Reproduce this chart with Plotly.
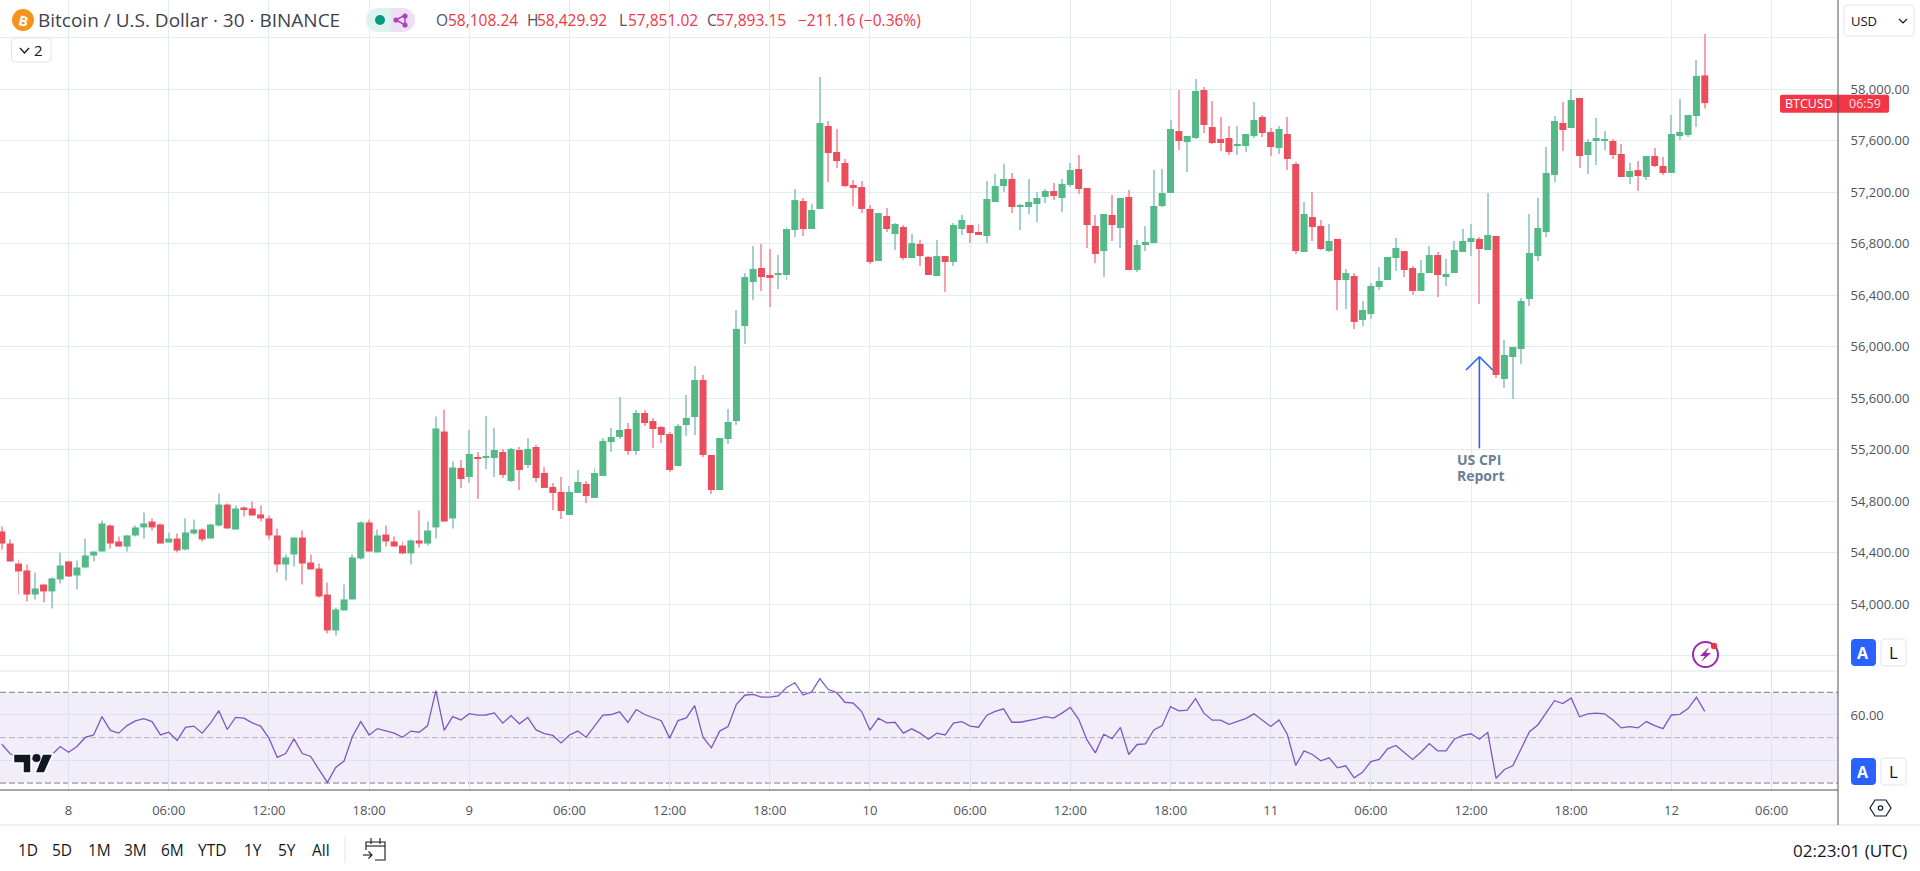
import pandas as pd
import plotly.graph_objects as go
from plotly.subplots import make_subplots

bar_start = "2024-07-07 20:00"
opens = [
54566,54472,54317,54263,54076,54154,54100,54193,54333,54224,
54286,54379,54410,54612,54488,54449,54535,54597,54643,54620,
54480,54511,54426,54550,54581,54511,54612,54775,54581,54752,
54744,54698,54667,54535,54309,54387,54519,54325,54278,54076,
53797,53952,54038,54356,54636,54403,54542,54488,54457,54395,
54496,54472,54597,55342,54667,55059,54989,55144,55144,55137,
55183,54958,55199,55082,55222,55020,54911,54873,54694,54865,
54935,54826,54997,55261,55300,55362,55191,55486,55424,55377,
55323,55074,55393,55455,55742,55160,54888,55284,55424,56162,
56504,56612,56558,56558,56558,56907,57133,56915,57071,57715,
57513,57428,57257,57241,57071,56667,57016,56876,56931,56690,
56799,56698,56550,56705,56659,56915,56946,56892,56861,57125,
57249,57304,57086,57086,57109,57164,57210,57156,57257,57381,
57234,56939,56744,57024,56923,57164,56597,56791,56806,57094,
57195,57676,57591,57622,57995,57707,57614,57622,57560,57560,
57638,57785,57669,57544,57653,57420,56737,57008,56939,56744,
56838,56519,56550,56208,56255,56465,56519,56690,56744,56612,
56434,56573,56713,56542,56573,56737,56814,56838,56752,56861,
55750,55921,55983,56372,56705,56892,57335,57739,57700,57933,
57490,57599,57606,57599,57498,57319,57373,57319,57482,57405,
57350,57638,57645,57793,58108.24]
highs = [
54605,54504,54348,54309,54247,54154,54208,54403,54333,54340,
54511,54410,54651,54620,54527,54535,54612,54713,54667,54628,
54558,54550,54667,54659,54589,54628,54861,54783,54768,54760,
54799,54768,54690,54589,54387,54519,54573,54387,54317,54170,
53975,54154,54387,54643,54659,54581,54612,54527,54488,54504,
54729,54643,55459,55513,55109,55121,55354,55183,55463,55370,
55207,55214,55222,55292,55238,55067,54942,54989,54919,55043,
54958,55059,55292,55370,55610,55408,55509,55509,55447,55385,
55339,55401,55626,55851,55781,55160,55292,55517,56286,56573,
56783,56799,56760,56713,56931,57226,57156,57109,58096,57754,
57692,57459,57296,57288,57102,57039,57078,56962,56946,56876,
56830,56705,56830,56705,56962,57024,56946,56954,57288,57342,
57420,57350,57109,57304,57203,57226,57272,57304,57428,57490,
57234,57024,57032,57179,57156,57218,56830,56939,57373,57381,
57762,57995,57638,58080,58018,57909,57785,57715,57715,57653,
57902,57801,57700,57715,57785,57436,57125,57203,56985,56954,
56838,56605,56573,56356,56496,56620,56698,56845,56744,56628,
56674,56783,56737,56682,56822,56915,56954,56853,57195,56861,
56053,55999,56379,57032,57156,57552,57793,57902,58003,57933,
57614,57777,57676,57614,57575,57428,57443,57482,57544,57474,
57801,57925,57801,58228,58429.92]
lows = [
54426,54333,54076,54022,54038,54014,53968,54162,54216,54115,
54286,54333,54410,54434,54449,54410,54527,54511,54573,54472,
54480,54403,54418,54542,54488,54511,54605,54589,54581,54682,
54690,54643,54504,54247,54185,54294,54154,54271,54053,53774,
53758,53952,54038,54348,54410,54403,54449,54449,54387,54309,
54441,54457,54511,54643,54589,54904,54942,54818,55051,54989,
54981,54950,54888,55059,54950,54904,54733,54663,54694,54865,
54787,54826,54997,55183,55284,55160,55160,55385,55214,55253,
55028,55074,55307,55315,55144,54857,54888,55245,55393,56022,
56364,56434,56309,56449,56519,56853,56861,56915,57071,57280,
57389,57241,57094,57039,56643,56667,56892,56752,56674,56690,
56628,56558,56550,56426,56628,56869,56806,56869,56806,57125,
57203,57039,56907,57032,56970,57117,57140,57047,57241,57187,
56768,56651,56542,56822,56768,56597,56581,56744,56806,57086,
57195,57529,57358,57614,57661,57575,57521,57490,57490,57513,
57622,57630,57482,57498,57373,56721,56737,56822,56752,56737,
56286,56294,56139,56162,56216,56441,56519,56589,56542,56403,
56434,56573,56387,56473,56573,56737,56705,56333,56752,55758,
55680,55595,55867,56317,56667,56853,57280,57521,57700,57389,
57342,57412,57529,57459,57319,57265,57210,57296,57397,57335,
57350,57606,57630,57707,57851.02]
closes = [
54472,54333,54255,54076,54123,54100,54201,54302,54216,54286,
54379,54410,54628,54472,54449,54535,54597,54628,54597,54472,
54511,54418,54558,54581,54504,54620,54775,54589,54744,54737,
54690,54667,54535,54309,54364,54519,54317,54271,54061,53797,
53960,54038,54364,54636,54410,54535,54488,54449,54395,54496,
54472,54573,55366,54643,55063,54973,55168,55129,55152,55199,
55005,55207,55043,55207,54981,54904,54865,54725,54873,54950,
54841,55020,55269,55300,55354,55191,55486,55408,55362,55315,
55043,55385,55447,55742,55160,54888,55292,55416,56139,56542,
56605,56542,56535,56573,56915,57140,56915,57063,57739,57505,
57443,57249,57234,57071,56659,57039,56915,56954,56690,56806,
56705,56558,56705,56659,56946,56985,56884,56869,57148,57249,
57304,57086,57102,57125,57156,57210,57172,57265,57373,57226,
56946,56721,57032,56946,57156,56597,56791,56814,57094,57195,
57692,57599,57638,57987,57723,57583,57583,57513,57568,57653,
57762,57661,57552,57692,57459,56744,57032,56931,56760,56822,
56519,56573,56193,56286,56473,56511,56698,56768,56597,56434,
56573,56713,56558,56566,56752,56822,56845,56760,56869,55781,
55937,55999,56356,56729,56923,57350,57754,57684,57917,57482,
57591,57622,57614,57490,57319,57366,57327,57482,57405,57350,
57653,57669,57801,58104,57893.15]
rsi_values = [
47.1,42.9,41.4,39.7,41.1,40.3,42.5,46.1,43.6,46.1,
50.1,51.2,59.3,53.2,52.0,55.3,57.4,58.4,57.1,51.2,
52.4,48.8,54.5,55.1,52.0,56.4,61.9,53.6,58.9,58.6,
56.5,55.1,49.8,41.3,43.0,49.5,43.0,41.7,35.9,30.3,
36.9,39.7,50.5,57.1,51.2,54.0,53.0,52.0,50.2,52.9,
52.4,55.2,70.7,53.2,59.3,57.8,60.6,59.9,60.0,60.9,
56.4,59.7,56.1,58.9,53.4,51.8,51.0,47.7,51.2,52.9,
50.2,54.8,59.9,60.2,61.4,56.7,62.4,60.2,58.7,57.5,
49.8,57.5,58.7,64.1,50.2,45.5,52.9,54.9,64.7,68.7,
69.1,67.9,67.9,68.4,72.1,74.2,68.8,70.1,76.0,71.2,
69.9,65.6,65.2,61.5,53.3,58.6,56.5,56.8,52.0,53.9,
52.0,49.3,52.0,51.2,56.4,57.1,55.1,54.6,59.9,61.6,
62.7,56.8,56.8,57.4,58.3,59.3,58.6,60.8,63.3,58.1,
49.0,43.3,51.5,49.6,54.5,42.6,47.0,47.3,53.4,55.3,
63.7,61.8,62.1,67.2,60.8,57.7,57.7,55.9,57.0,58.4,
60.5,57.7,54.9,57.8,51.4,37.8,44.2,42.6,39.8,41.1,
36.7,37.6,32.3,34.7,39.5,40.4,45.1,46.6,43.5,40.4,
43.6,47.4,44.2,44.2,49.3,51.0,51.7,49.3,52.3,32.1,
36.0,37.6,45.1,52.6,55.6,61.2,66.3,65.0,67.5,59.2,
60.5,60.8,60.5,57.8,54.3,54.9,54.3,57.1,55.3,54.0,
60.0,60.3,62.8,67.8,61.6]

price_ticks = [53600,54000,54400,54800,55200,55600,56000,56400,56800,57200,57600,58000,58400]
price_labels = ["","54,000.00","54,400.00","54,800.00","55,200.00","55,600.00","56,000.00",
                "56,400.00","56,800.00","57,200.00","57,600.00","58,000.00",""]
time_ticks = ["2024-07-08 00:00","2024-07-08 06:00","2024-07-08 12:00","2024-07-08 18:00",
              "2024-07-09 00:00","2024-07-09 06:00","2024-07-09 12:00","2024-07-09 18:00",
              "2024-07-10 00:00","2024-07-10 06:00","2024-07-10 12:00","2024-07-10 18:00",
              "2024-07-11 00:00","2024-07-11 06:00","2024-07-11 12:00","2024-07-11 18:00",
              "2024-07-12 00:00","2024-07-12 06:00"]
time_labels = ["8","06:00","12:00","18:00","9","06:00","12:00","18:00","10","06:00","12:00","18:00",
               "11","06:00","12:00","18:00","12","06:00"]
range_buttons = ["1D","5D","1M","3M","6M","YTD","1Y","5Y","All"]
range_centers = [28,62,99,135,172,212,253,287,321]

GREEN, RED = "#53b987", "#eb4d5c"
GREEN_WICK, RED_WICK = "#a5ced0", "#f7a1ad"
GRID, GRID_RSI = "#e2ecf3", "#dce2f0"
FONT = "Open Sans, Liberation Sans, sans-serif"
AXIS_TXT = "#50535e"
W, H_PLOT = 1838.0, 790.0

dates = pd.date_range(bar_start, periods=len(opens), freq="30min")
body_top = [max(a, b) for a, b in zip(opens, closes)]
body_bot = [min(a, b) for a, b in zip(opens, closes)]
wick_colors = [GREEN_WICK if c >= o else RED_WICK for o, c in zip(opens, closes)]
body_colors = [GREEN if c >= o else RED for o, c in zip(opens, closes)]

fig = make_subplots(rows=2, cols=1, shared_xaxes=True, vertical_spacing=0,
                    row_heights=[671/790, 119/790])

fig.add_trace(go.Bar(x=dates, y=[h - l for h, l in zip(highs, lows)], base=lows, width=215000,
                     marker=dict(color=wick_colors, line=dict(width=0)), showlegend=False,
                     hoverinfo="skip", name="wick"), row=1, col=1)
fig.add_trace(go.Bar(x=dates, y=[t - b for t, b in zip(body_top, body_bot)], base=body_bot, width=1509000,
                     marker=dict(color=body_colors, line=dict(width=0)), showlegend=False,
                     hoverinfo="skip", name="body"), row=1, col=1)
fig.add_trace(go.Scatter(x=dates, y=rsi_values, mode="lines", showlegend=False, hoverinfo="skip",
                         line=dict(color="#7e57c2", width=1.3)), row=2, col=1)

X_RANGE = ["2024-07-07 19:53:30", "2024-07-12 09:58:48"]
fig.update_xaxes(range=X_RANGE, tickmode="array", tickvals=time_ticks, ticktext=time_labels,
                 showgrid=True, gridcolor=GRID, gridwidth=1, zeroline=False, showline=False,
                 tickfont=dict(family=FONT, size=13, color=AXIS_TXT),
                 ticks="outside", ticklen=8, tickcolor="rgba(0,0,0,0)")
fig.update_xaxes(showticklabels=False, ticks="", row=1, col=1)
fig.update_xaxes(gridcolor=GRID_RSI, row=2, col=1)
fig.update_yaxes(side="right", range=[53482, 58694], tickmode="array", tickvals=price_ticks,
                 ticktext=price_labels, showgrid=True, gridcolor=GRID, gridwidth=1, zeroline=False,
                 tickfont=dict(family=FONT, size=13, color=AXIS_TXT), ticks="outside", ticklen=9,
                 tickcolor="rgba(0,0,0,0)", showline=False, row=1, col=1)
fig.update_yaxes(side="right", range=[26.94, 79.38], tickmode="array", tickvals=[40, 60],
                 ticktext=["", "60.00"], showgrid=True, gridcolor=GRID_RSI, gridwidth=1, zeroline=False,
                 tickfont=dict(family=FONT, size=13, color=AXIS_TXT), ticks="outside", ticklen=9,
                 tickcolor="rgba(0,0,0,0)", showline=False, row=2, col=1)


def px(x):
    return x / W


def py(y):
    return 1 - y / H_PLOT


def poly(points, close=True):
    s = "M" + " L".join(f"{px(x):.5f},{py(y):.5f}" for x, y in points)
    return s + (" Z" if close else "")


def round_rect(x0, y0, x1, y1, r):
    p = lambda x, y: f"{px(x):.5f},{py(y):.5f}"
    return (f"M{p(x0+r,y0)} L{p(x1-r,y0)} Q{p(x1,y0)} {p(x1,y0+r)} L{p(x1,y1-r)} Q{p(x1,y1)} {p(x1-r,y1)} "
            f"L{p(x0+r,y1)} Q{p(x0,y1)} {p(x0,y1-r)} L{p(x0,y0+r)} Q{p(x0,y0)} {p(x0+r,y0)} Z")


shapes = []


def path(d, fill="rgba(0,0,0,0)", line="rgba(0,0,0,0)", width=1, layer="above"):
    shapes.append(dict(type="path", path=d, xref="paper", yref="paper", fillcolor=fill,
                       line=dict(color=line, width=width), layer=layer))


def circle(cx, cy, r, fill="rgba(0,0,0,0)", line="rgba(0,0,0,0)", width=1):
    shapes.append(dict(type="circle", xref="paper", yref="paper", x0=px(cx-r), x1=px(cx+r),
                       y0=py(cy+r), y1=py(cy-r), fillcolor=fill, line=dict(color=line, width=width),
                       layer="above"))


def hline(y, x0, x1, color, width=1):
    shapes.append(dict(type="line", xref="paper", yref="paper", x0=px(x0), x1=px(x1), y0=py(y), y1=py(y),
                       line=dict(color=color, width=width), layer="above"))


# RSI band and levels
shapes.append(dict(type="rect", xref="paper", yref="y2", x0=0, x1=1, y0=30, y1=70,
                   fillcolor="rgba(126,87,194,0.1)", line=dict(width=0), layer="below"))
for lvl, col in [(70, "#787b86"), (30, "#787b86"), (50, "#b3b1bf")]:
    shapes.append(dict(type="line", xref="paper", yref="y2", x0=0, x1=1, y0=lvl, y1=lvl,
                       line=dict(color=col, width=1, dash="6px,3px"), layer="below"))

# pane frames
hline(671, 0, 1838, "#e0e3eb")
hline(790, 0, 1838, "#50535e")
hline(825, 0, 1920, "#e0e3eb")
shapes.append(dict(type="line", xref="paper", yref="paper", x0=1, x1=1, y0=py(0), y1=py(825),
                   line=dict(color="#50535e", width=1), layer="above"))
shapes.append(dict(type="line", xref="paper", yref="paper", x0=px(345), x1=px(345), y0=py(836), y1=py(863),
                   line=dict(color="#e0e3eb", width=1), layer="above"))

# CPI arrow
arrow_t = dates[177]
wing = pd.Timedelta(minutes=48)
for (x0, y0, x1, y1) in [(arrow_t, 55212, arrow_t, 55923), (arrow_t - wing, 55820, arrow_t, 55923),
                         (arrow_t + wing, 55820, arrow_t, 55923)]:
    shapes.append(dict(type="line", xref="x", yref="y", x0=x0, x1=x1, y0=y0, y1=y1,
                       line=dict(color="#2962ff", width=1.6), layer="above"))

# header icons
circle(23, 20, 11, fill="#f7931a")
circle(378, 20, 12, fill="#def3ef")
circle(403, 20, 12, fill="#efdff5")
path(round_rect(378, 8, 391, 32, 0), fill="#def3ef")
path(round_rect(391, 8, 403, 32, 0), fill="#efdff5")
circle(380, 20, 5, fill="#089981")
path(poly([(396, 20), (405, 15), (405, 25)]), line="#ab47bc", width=1.5)
circle(396, 20, 2.6, fill="#ab47bc")
circle(405, 16, 2.6, fill="#ab47bc")
circle(405, 25, 2.6, fill="#ab47bc")

# legend collapse button
path(round_rect(11.5, 38, 51, 62, 4), fill="#ffffff", line="#e0e3eb")
path(poly([(20, 48), (24.5, 53), (29, 48)], close=False), line="#131722", width=1.2)

# currency button
path(round_rect(1844, 5, 1914, 36, 4), fill="#ffffff", line="#e0e3eb")
path(poly([(1899, 19), (1903, 23), (1907, 19)], close=False), line="#131722", width=1.2)

# last price tag
path(round_rect(1780, 94.7, 1889, 112.7, 2), fill="#f23645")
shapes.append(dict(type="line", xref="paper", yref="paper", x0=1, x1=1, y0=py(94.7), y1=py(112.7),
                   line=dict(color="#50535e", width=1), layer="above"))

# auto / log buttons
for top, bot in [(639, 666), (758, 785)]:
    path(round_rect(1851, top, 1876, bot, 4), fill="#2962ff")
    path(round_rect(1881, top, 1906, bot, 4), fill="#ffffff", line="#e0e3eb")

# logo
logo_t = [(13.5, 754), (31, 754), (31, 773), (23, 773), (23, 763), (13.5, 763)]
logo_s = [(42.5, 754), (53, 754), (44.5, 773), (35, 773)]
path(poly(logo_t), fill="#131722", line="#ffffff", width=1.5)
path(poly(logo_s), fill="#131722", line="#ffffff", width=1.5)
circle(36.5, 758, 4, fill="#131722")

# lightning badge
circle(1705.5, 654.5, 12.5, line="#9c27b0", width=2)
path(poly([(1709, 647), (1700, 656), (1705, 656), (1701, 662), (1711, 653), (1706, 653)]), fill="#9c27b0")
circle(1714, 646, 3.2, fill="#f23645")

# settings hexagon and calendar
path(poly([(1875, 800), (1886, 800), (1891, 808), (1886, 816), (1875, 816), (1870, 808)]),
     line="#131722", width=1.2)
circle(1880.5, 808, 2.2, line="#131722", width=1.2)
path(poly([(366, 850), (366, 842), (385, 842), (385, 860), (375, 860)], close=False), line="#131722", width=1.1)
path(poly([(366, 846), (385, 846)], close=False), line="#131722", width=1.1)
path(poly([(371, 838), (371, 844)], close=False), line="#131722", width=1.1)
path(poly([(380, 838), (380, 844)], close=False), line="#131722", width=1.1)
path(poly([(363, 855), (372, 855)], close=False), line="#131722", width=1.1)
path(poly([(368.5, 851.5), (372, 855), (368.5, 858.5)], close=False), line="#131722", width=1.1)

annos = []


def text(x, y, s, color="#131722", size=14, anchor="left", family=FONT, **kw):
    annos.append(dict(x=px(x), y=py(y), xref="paper", yref="paper", text=s, showarrow=False,
                      xanchor=anchor, yanchor="middle", font=dict(family=family, size=size, color=color),
                      borderpad=0, borderwidth=0, **kw))


text(23, 20, "<b>B</b>", color="#ffffff", size=14, anchor="center", textangle=12)
text(38, 20, "Bitcoin / U.S. Dollar · 30 · BINANCE", color="#3f424b", size=19)
DARK, NEG = "#50535e", "#f23645"
for x, s, c in [(436, "O", DARK), (448, "58,108.24", NEG), (527, "H", DARK), (537, "58,429.92", NEG),
                (619, "L", DARK), (628, "57,851.02", NEG), (707, "C", DARK), (716, "57,893.15", NEG),
                (798, "−211.16 (−0.36%)", NEG)]:
    text(x, 20, s, color=c, size=15.5)
text(34, 50, "2", color="#131722", size=15)
text(1851, 20.5, "USD", color="#131722", size=13)
text(1785, 103.7, "BTCUSD", color="#ffffff", size=12.5)
text(1849, 103.7, "06:59", color="#fbdde0", size=12.5)
text(1863.5, 652.5, "<b>A</b>", color="#ffffff", size=16, anchor="center")
text(1893.5, 652.5, "L", color="#131722", size=17, anchor="center")
text(1863.5, 771.5, "<b>A</b>", color="#ffffff", size=16, anchor="center")
text(1893.5, 771.5, "L", color="#131722", size=17, anchor="center")
text(1457, 459, "<b>US CPI</b>", color="#6a7f95", size=14)
text(1457, 475, "<b>Report</b>", color="#6a7f95", size=14)
for c, s in zip(range_centers, range_buttons):
    text(c, 850, s, color="#131722", size=15.5, anchor="center")
text(1907, 850, "02:23:01 (UTC)", color="#131722", size=17, anchor="right")

fig.update_layout(width=1920, height=871, margin=dict(l=0, r=82, t=0, b=81, pad=0),
                  paper_bgcolor="#ffffff", plot_bgcolor="#ffffff", showlegend=False, barmode="overlay",
                  shapes=shapes, annotations=annos, hovermode=False, dragmode=False)

fig.write_html("out.html", post_script="document.body.style.margin='0';document.body.style.overflow='hidden';",
               config={"displayModeBar": False})
